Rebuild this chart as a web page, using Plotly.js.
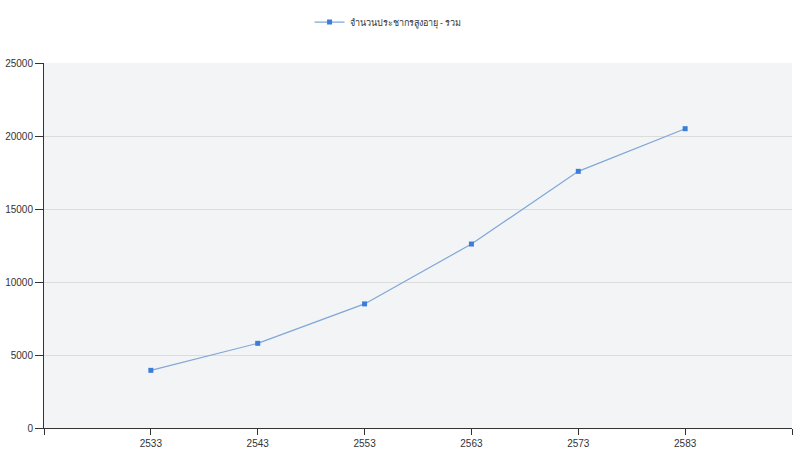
<!DOCTYPE html>
<html>
<head>
<meta charset="utf-8">
<script src="https://cdn.plot.ly/plotly-3.0.1.min.js"></script>
<style>html,body{margin:0;padding:0;background:#fff;}#chart{width:800px;height:456px;}</style>
</head>
<body>
<div id="chart"></div>
<script>
var years = [2533, 2543, 2553, 2563, 2573, 2583];
var elderlyTotal = [3950, 5800, 8500, 12600, 17580, 20500];
var seriesName = 'จำนวนประชากรสูงอายุ - รวม';
var xTickVals = [2523, 2533, 2543, 2553, 2563, 2573, 2583, 2593];
var xTickText = ['', '2533', '2543', '2553', '2563', '2573', '2583', ''];
var yTickVals = [0, 5000, 10000, 15000, 20000, 25000];

var trace = {
  x: years,
  y: elderlyTotal,
  name: seriesName,
  type: 'scatter',
  mode: 'lines+markers',
  line: {color: '#7ea7d8', width: 1.2},
  marker: {symbol: 'square', size: 5, color: '#3b7dd8'}
};

var layout = {
  width: 800, height: 456,
  margin: {l: 44, r: 8, t: 61, b: 28},
  paper_bgcolor: '#ffffff',
  plot_bgcolor: '#f3f4f5',
  font: {family: 'Arial, "Liberation Sans", "Noto Sans", sans-serif', size: 10, color: '#333'},
  showlegend: true,
  legend: {orientation: 'h', x: 0.46, xanchor: 'center', y: 1.112, yanchor: 'middle',
           itemwidth: 30,
           font: {size: 9, color: '#333', family: '"Noto Sans", "DejaVu Sans", sans-serif'}},
  xaxis: {
    type: 'linear', range: [2523, 2593], tickmode: 'array',
    tickvals: xTickVals, ticktext: xTickText,
    showgrid: false, zeroline: false,
    showline: true, linecolor: '#333', linewidth: 1,
    ticks: 'outside', ticklen: 6, tickcolor: '#333',
    tickfont: {size: 10, color: '#333'}
  },
  yaxis: {
    range: [0, 25000], tickmode: 'array', tickvals: yTickVals, tickformat: 'd',
    showgrid: true, gridcolor: '#dcdcdc', gridwidth: 1, zeroline: false,
    showline: true, linecolor: '#333', linewidth: 1,
    ticks: 'outside', ticklen: 8, tickcolor: '#333',
    tickfont: {size: 10, color: '#333'}
  }
};

Plotly.newPlot('chart', [trace], layout, {displayModeBar: false, staticPlot: true});
</script>
</body>
</html>
